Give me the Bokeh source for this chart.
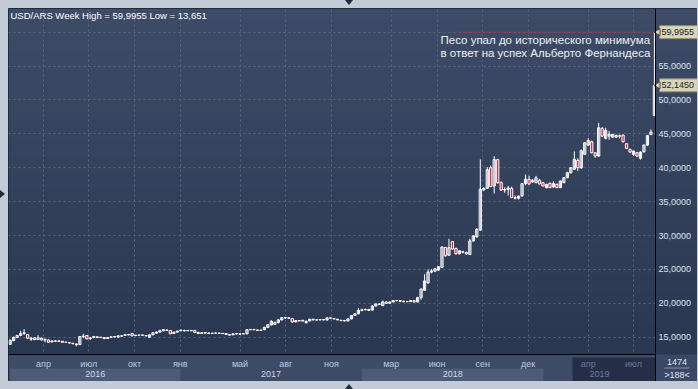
import math
import numpy as np
import pandas as pd
from bokeh.plotting import figure
from bokeh.models import ColumnDataSource, Range1d, FixedTicker, Span, Label
from bokeh.core.properties import value
from bokeh.embed import file_html
from bokeh.resources import INLINE
try:
    from bokeh.models import GlobalInlineStyleSheet
except ImportError:
    GlobalInlineStyleSheet = None

# ---------------- data (weekly USD/ARS candles) ----------------
FIRST_WEEK = "2016-01-25"
opens = [13.95, 14.50, 14.95, 15.25, 15.55, 15.40, 14.85, 14.90, 14.90, 14.85,
         14.60, 14.60, 14.30, 14.45, 14.40, 14.40, 14.25, 14.20, 14.10, 14.00,
         13.90, 15.10, 15.25, 14.80, 14.95, 15.05, 14.95, 14.95, 14.80, 15.00,
         15.05, 15.05, 15.15, 15.25, 15.35, 15.55, 15.25, 15.30, 15.30, 15.25,
         15.00, 15.35, 15.60, 15.75, 15.95, 16.05, 16.00, 15.55, 15.75, 15.95,
         16.00, 15.95, 16.00, 16.00, 15.70, 15.55, 15.70, 15.60, 15.55, 15.60,
         15.60, 15.55, 15.55, 15.40, 15.35, 15.50, 15.45, 15.50, 15.50, 16.10,
         16.15, 16.05, 16.00, 16.10, 16.45, 16.80, 16.90, 17.15, 17.55, 17.85,
         17.85, 17.75, 17.25, 17.45, 17.40, 17.15, 17.40, 17.65, 17.55, 17.55,
         17.60, 17.55, 17.85, 17.75, 17.65, 17.50, 17.45, 17.40, 17.70, 18.20,
         18.45, 18.95, 19.05, 19.10, 19.00, 19.60, 19.85, 19.65, 20.20, 20.00,
         20.20, 20.40, 20.40, 20.30, 20.25, 20.25, 20.40, 20.20, 20.85, 21.90,
         23.00, 24.60, 24.75, 24.90, 25.30, 28.25, 27.10, 29.10, 28.10, 27.30,
         27.60, 27.50, 27.20, 29.20, 29.80, 30.80, 36.75, 36.95, 40.00, 37.30,
         41.20, 37.80, 36.70, 36.80, 36.95, 35.60, 35.50, 35.85, 37.65, 38.30,
         37.90, 37.80, 38.15, 37.80, 37.05, 37.70, 37.15, 37.55, 37.06, 37.80,
         38.53, 39.27, 39.76, 41.08, 40.00, 41.97, 43.34, 43.83, 42.20, 41.72,
         45.79, 44.32, 44.66, 44.50, 44.51, 44.66, 44.80, 43.54, 42.70, 41.97,
         42.21, 41.38, 42.36, 43.34, 44.90, 47.70]
highs = [14.65, 15.05, 15.35, 15.95, 16.20, 15.45, 15.05, 15.00, 15.30, 14.95,
         14.85, 14.65, 14.50, 14.55, 14.50, 14.45, 14.35, 14.25, 14.15, 14.05,
         15.15, 15.50, 15.30, 15.00, 15.20, 15.15, 15.05, 15.00, 15.00, 15.10,
         15.15, 15.25, 15.25, 15.50, 15.45, 15.60, 15.35, 15.35, 15.40, 15.30,
         15.40, 15.70, 15.85, 16.10, 16.15, 16.15, 16.05, 15.80, 15.95, 16.10,
         16.10, 16.05, 16.05, 16.05, 15.80, 15.70, 15.75, 15.70, 15.65, 15.70,
         15.70, 15.65, 15.60, 15.45, 15.55, 15.60, 15.55, 15.60, 16.20, 16.20,
         16.20, 16.15, 16.10, 16.55, 16.90, 17.50, 17.30, 17.70, 17.95, 17.95,
         17.95, 17.80, 17.50, 17.50, 17.55, 17.45, 17.70, 17.70, 17.60, 17.65,
         17.65, 17.95, 17.90, 17.80, 17.70, 17.55, 17.55, 17.75, 18.25, 18.50,
         19.30, 19.20, 19.20, 19.15, 19.70, 19.95, 20.00, 20.40, 20.25, 20.25,
         20.45, 20.50, 20.45, 20.40, 20.35, 20.45, 20.45, 20.95, 22.20, 24.30,
         25.00, 25.05, 25.15, 25.45, 28.40, 28.30, 29.50, 29.20, 28.20, 27.80,
         27.75, 27.60, 29.50, 30.00, 31.10, 41.23, 37.10, 40.10, 40.30, 41.70,
         41.30, 38.00, 37.10, 37.30, 37.20, 35.90, 35.90, 37.70, 39.00, 38.80,
         38.30, 38.80, 38.35, 37.90, 37.60, 37.80, 38.00, 37.65, 38.10, 38.60,
         39.40, 40.10, 42.40, 41.40, 42.70, 43.80, 44.36, 44.00, 42.30, 46.62,
         46.00, 45.89, 45.40, 45.00, 44.90, 44.90, 44.90, 43.60, 42.80, 42.50,
         42.30, 42.40, 43.40, 44.80, 45.64, 59.9955]
lows = [13.90, 14.40, 14.85, 15.15, 15.35, 14.75, 14.45, 14.55, 14.60, 14.55,
        14.25, 14.20, 14.25, 14.35, 14.35, 14.20, 14.15, 14.10, 13.95, 13.651,
        13.85, 14.85, 14.70, 14.60, 14.85, 14.90, 14.85, 14.70, 14.75, 14.95,
        14.95, 14.85, 15.10, 15.20, 15.25, 15.15, 15.15, 15.25, 15.25, 15.15,
        14.90, 15.30, 15.55, 15.70, 15.90, 15.90, 15.45, 15.50, 15.70, 15.90,
        15.85, 15.90, 15.90, 15.65, 15.45, 15.50, 15.55, 15.50, 15.50, 15.55,
        15.50, 15.45, 15.35, 15.20, 15.30, 15.40, 15.40, 15.45, 15.45, 16.05,
        16.05, 15.95, 15.95, 16.05, 16.40, 16.75, 16.85, 17.05, 17.50, 17.70,
        17.70, 17.15, 17.20, 17.35, 17.30, 17.00, 17.35, 17.50, 17.50, 17.50,
        17.50, 17.45, 17.70, 17.60, 17.50, 17.35, 17.35, 17.35, 17.65, 18.15,
        18.40, 18.80, 18.95, 18.85, 18.95, 19.55, 19.75, 19.60, 19.90, 19.95,
        20.15, 20.30, 20.20, 20.15, 20.15, 20.20, 20.15, 20.15, 20.50, 21.80,
        22.90, 24.40, 24.60, 24.80, 25.25, 26.90, 27.00, 27.90, 27.20, 27.20,
        27.35, 27.15, 27.10, 29.10, 29.70, 30.70, 36.55, 36.90, 37.15, 36.20,
        37.60, 36.60, 36.30, 35.90, 35.50, 35.30, 35.30, 35.70, 37.40, 37.50,
        37.80, 37.70, 37.55, 37.25, 36.95, 37.00, 37.05, 37.00, 37.00, 37.70,
        38.45, 39.10, 39.70, 39.50, 39.80, 41.90, 43.20, 42.10, 41.47, 41.60,
        44.50, 44.20, 44.10, 44.40, 44.40, 44.32, 43.70, 42.75, 42.20, 41.72,
        41.60, 41.20, 42.20, 43.20, 44.80, 47.60]
closes = [14.55, 15.00, 15.25, 15.55, 15.65, 14.85, 14.70, 14.65, 14.65, 14.60,
          14.65, 14.25, 14.45, 14.40, 14.45, 14.25, 14.25, 14.15, 14.05, 13.90,
          15.10, 15.15, 14.75, 14.90, 15.10, 14.95, 15.00, 14.80, 14.95, 15.05,
          15.10, 15.20, 15.20, 15.35, 15.40, 15.20, 15.30, 15.30, 15.30, 15.20,
          15.35, 15.65, 15.75, 15.95, 16.10, 16.00, 15.50, 15.75, 15.90, 16.05,
          15.95, 16.00, 15.95, 15.70, 15.55, 15.65, 15.60, 15.55, 15.60, 15.60,
          15.55, 15.55, 15.40, 15.30, 15.50, 15.50, 15.50, 15.50, 16.10, 16.15,
          16.10, 16.00, 16.05, 16.45, 16.85, 17.35, 17.20, 17.55, 17.90, 17.90,
          17.80, 17.25, 17.45, 17.40, 17.50, 17.35, 17.65, 17.55, 17.55, 17.60,
          17.55, 17.85, 17.80, 17.70, 17.55, 17.45, 17.40, 17.70, 18.20, 18.45,
          18.95, 19.05, 19.10, 18.95, 19.60, 19.90, 19.90, 20.20, 20.00, 20.20,
          20.40, 20.40, 20.30, 20.25, 20.25, 20.40, 20.20, 20.85, 22.10, 23.30,
          24.60, 24.80, 25.10, 25.40, 28.30, 27.00, 28.20, 28.00, 27.30, 27.75,
          27.55, 27.30, 29.20, 29.95, 30.90, 36.82, 36.95, 39.70, 37.20, 41.20,
          37.80, 36.70, 36.80, 37.00, 35.60, 35.50, 35.80, 37.65, 38.30, 37.60,
          38.15, 38.50, 37.60, 37.30, 37.55, 37.05, 37.65, 37.05, 38.04, 38.53,
          39.27, 40.00, 41.23, 40.00, 42.50, 43.68, 44.00, 42.21, 41.72, 45.89,
          44.66, 45.50, 44.90, 44.90, 44.76, 44.70, 43.83, 42.85, 42.31, 42.46,
          41.72, 42.31, 43.34, 44.76, 45.25, 52.145]

price_ticks = [15, 20, 25, 30, 35, 40, 45, 50, 55]
price_labels = ["15,0000", "20,0000", "25,0000", "30,0000", "35,0000",
                "40,0000", "45,0000", "50,0000", "55,0000"]
grid_levels = [15, 20, 25, 30, 35, 40, 45, 50, 55, 60]
month_dates = ["2016-04-01", "2016-07-01", "2016-10-01", "2017-01-01", "2017-05-01",
               "2017-08-01", "2017-11-01", "2018-03-01", "2018-06-01", "2018-09-01",
               "2018-12-01", "2019-04-01", "2019-07-01"]
month_labels = ["апр", "июл", "окт", "янв", "май", "авг", "ноя",
                "мар", "июн", "сен", "дек", "апр", "июл"]
year_labels = ["2016", "2017", "2018", "2019"]
year_starts = ["2016-01-01", "2017-01-01", "2018-01-01", "2019-01-01", "2020-01-01"]
year_band = [True, False, True, False]
bars_total = "1474"
bars_visible = ">188<"
note_lines = ["Песо упал до исторического минимума",
              "в ответ на успех Альберто Фернандеса"]

# ---------------- layout helpers (page pixels -> data, for decorations only) ----------------
PX_PER_UNIT = 6.78
Y15_PX = 336.7
PX_PER_DAY = 0.49747
X_START = pd.Timestamp("2016-01-21 15:00")


def row(py):
    return 15 + (Y15_PX - py) / PX_PER_UNIT


def col(px):
    return X_START + pd.Timedelta(days=(px - 8) / PX_PER_DAY)


def ms(t):
    return pd.Timestamp(t).value // 10**6


X_END = col(697)          # right edge of the whole panel
X_SPLIT = col(655)        # price area | price scale
Y_START, Y_END = row(381), row(8)
CHART_BOTTOM = row(354)
DARK_FROM = col(572)
HIGH_LINE_FROM = col(458)
BODY_W = 4.5 * 86400000
BOX_HALF = 6.5 / PX_PER_UNIT

BG_TOP = (61, 75, 102)
BG_BOT = (42, 55, 81)
AXIS_BG = "#3d4b67"
BAND = "#4c5b78"
DARK_BOX = "#242f47"
GRID = "#56667f"
RED = "#e3142f"
TXT = "#dfe5ee"
MONTH_TXT = "#b9cbe6"
DIM_TXT = "#6b7993"
FONT = "Liberation Sans"

weeks = pd.date_range(FIRST_WEEK, periods=len(opens), freq="7D")
df = pd.DataFrame(dict(date=weeks, open=opens, high=highs, low=lows, close=closes))
df["top"] = df[["open", "close"]].max(axis=1)
df["bottom"] = df[["open", "close"]].min(axis=1)
down = df["close"] < df["open"]
df["fill"] = np.where(down, RED, "#000000")
df["alpha"] = np.where(down, 1.0, 0.0)
src = ColumnDataSource(df)

p = figure(width=689, height=373, x_range=Range1d(X_START, X_END),
           y_range=Range1d(Y_START, Y_END), x_axis_type="datetime",
           x_axis_location=None, y_axis_location=None,
           output_backend="svg", toolbar_location=None,
           min_border_left=0, min_border_right=0, min_border_top=0, min_border_bottom=0,
           background_fill_color="#2e3b57", border_fill_color="#c3cbd7",
           outline_line_color="#1a2130")

# grids
p.xgrid.ticker = FixedTicker(ticks=[ms(d) for d in month_dates])
p.ygrid.ticker = FixedTicker(ticks=grid_levels)
for g in (p.xgrid, p.ygrid):
    g.grid_line_color = GRID
    g.grid_line_dash = "2 3"
    g.grid_line_width = 1


def gradient(n=96):
    t = np.linspace(0, 1, n)[:, None]
    cols = np.array(BG_BOT)[None, :] + (np.array(BG_TOP) - np.array(BG_BOT))[None, :] * t
    img = np.empty((n, 1), dtype=np.uint32)
    view = img.view(dtype=np.uint8).reshape((n, 1, 4))
    view[:, 0, 0:3] = np.round(cols).astype(np.uint8)
    view[:, 0, 3] = 255
    return img


# price-area background (below the grid)
p.image_rgba(image=[gradient()], x=ms(X_START), y=CHART_BOTTOM,
             dw=ms(X_SPLIT) - ms(X_START), dh=Y_END - CHART_BOTTOM, level="image")

# high marker
hi = max(highs)
p.segment(x0=[HIGH_LINE_FROM], y0=[hi], x1=[weeks[-1]], y1=[hi],
          line_color="#d0283a", line_dash="2 2", line_width=1)

# candles
p.segment(x0="date", y0="low", x1="date", y1="high", source=src,
          line_color="white", line_width=1)
p.vbar(x="date", width=BODY_W, top="top", bottom="bottom", source=src,
       fill_color="fill", fill_alpha="alpha", line_color="white", line_width=1)

# ---- bottom time scale ----
p.quad(left=[X_START], right=[X_SPLIT], bottom=[Y_START], top=[CHART_BOTTOM],
       fill_color=AXIS_BG, line_color=None)
ys = [pd.Timestamp(s) for s in year_starts]
band_l, band_r, year_x = [], [], []
for i, lab in enumerate(year_labels):
    lo = max(ys[i], weeks[0])
    hi_ = min(ys[i + 1], X_SPLIT)
    year_x.append(lo + (hi_ - lo) / 2)
    if year_band[i]:
        band_l.append(lo)
        band_r.append(hi_)
p.quad(left=band_l, right=band_r, bottom=Y_START, top=row(368),
       fill_color=BAND, line_color=None)
p.quad(left=[DARK_FROM], right=[X_SPLIT], bottom=[Y_START], top=[row(357)],
       fill_color=DARK_BOX, line_color=None)
p.segment(x0=[X_START], y0=[CHART_BOTTOM], x1=[X_SPLIT], y1=[CHART_BOTTOM],
          line_color="black", line_width=1)

mdates = [pd.Timestamp(d) for d in month_dates]
mcol = [DIM_TXT if d >= DARK_FROM else MONTH_TXT for d in mdates]
p.text(x=mdates, y=[row(363)] * len(mdates), text=month_labels, text_color=mcol,
       text_font=value(FONT), text_font_size="9px",
       text_align="center", text_baseline="middle")
ycol = [DIM_TXT if x >= DARK_FROM else "#d0d8e4" for x in year_x]
p.text(x=year_x, y=[row(373.5)] * len(year_x), text=year_labels, text_color=ycol,
       text_font=value(FONT), text_font_size="9px",
       text_align="center", text_baseline="middle")

# ---- right price scale ----
p.image_rgba(image=[gradient()], x=ms(X_SPLIT), y=CHART_BOTTOM,
             dw=ms(X_END) - ms(X_SPLIT), dh=Y_END - CHART_BOTTOM)
p.quad(left=[X_SPLIT], right=[X_END], bottom=[Y_START], top=[CHART_BOTTOM],
       fill_color="#3a4865", line_color=None)
p.add_layout(Span(location=ms(X_SPLIT), dimension="height", line_color="black", line_width=1))
p.text(x=[col(658)] * len(price_ticks), y=price_ticks, text=price_labels,
       text_color=TXT, text_font=value(FONT), text_font_size="9px",
       text_align="left", text_baseline="middle")

# callouts for the high and the last close
call_vals = [hi, closes[-1]]
call_txt = [("%.4f" % v).replace(".", ",") for v in call_vals]
p.quad(left=[col(659)] * 2, right=[col(697)] * 2,
       bottom=[v - BOX_HALF for v in call_vals], top=[v + BOX_HALF for v in call_vals],
       fill_color="#d9d5b6", line_color="#8f8c70", line_width=1)
p.scatter(x=[col(657.5)] * 2, y=call_vals, marker="triangle", angle=math.pi / 2,
          size=7, fill_color="#d9d5b6", line_color="#4a4a3c", line_width=1)
p.text(x=[col(661)] * 2, y=call_vals, text=call_txt, text_color="#1a2233",
       text_font=value(FONT), text_font_size="9px",
       text_align="left", text_baseline="middle")

# bar counter box
p.text(x=[col(676.5)] * 2, y=[row(361.5), row(374.5)], text=[bars_total, bars_visible],
       text_color=TXT, text_font=value(FONT), text_font_size="9px",
       text_align="center", text_baseline="middle")
p.segment(x0=[col(664)], y0=[row(367.5)], x1=[col(689)], y1=[row(367.5)],
          line_color="#8693aa", line_width=1)

# title
title = "USD/ARS Week High = {} Low = {}".format(
    ("%.4f" % max(highs)).replace(".", ","), ("%.3f" % min(lows)).replace(".", ","))
p.add_layout(Label(x=2, x_units="screen", y=row(15), text=title,
                   text_font=FONT, text_font_size="9.5px", text_color="white",
                   text_baseline="middle"))

# annotation
for k, line in enumerate(note_lines):
    p.add_layout(Label(x=432, x_units="screen", y=row(39 + 13.7 * k), text=line,
                       text_font=FONT, text_font_size="11.5px",
                       text_color="#eef1f6", text_baseline="middle"))

if GlobalInlineStyleSheet is not None:
    css = """
html { background: #c3cbd7 !important; overflow: hidden !important; margin: 0 !important; padding: 0 !important; }
body { background: transparent !important; overflow: visible !important;
  margin: 8px !important; padding: 0 !important; width: 692px !important;
  min-width: 692px !important; }
body::before { content: ""; position: fixed; left: 345px; top: 0px; width: 0; height: 0;
  border-left: 4px solid transparent; border-right: 4px solid transparent;
  border-top: 5px solid #1f2a3c; z-index: 10; }
body::after { content: ""; position: fixed; left: 345px; top: 384px; width: 0; height: 0;
  border-left: 4px solid transparent; border-right: 4px solid transparent;
  border-bottom: 5px solid #1f2a3c; z-index: 10; }
html::after { content: ""; position: fixed; left: 0px; top: 190px; width: 0; height: 0;
  border-top: 4px solid transparent; border-bottom: 4px solid transparent;
  border-left: 5px solid #1f2a3c; z-index: 10; }
"""
    p.stylesheets = [GlobalInlineStyleSheet(css=css)]

with open("out.html", "w", encoding="utf-8") as f:
    f.write(file_html(p, INLINE))
